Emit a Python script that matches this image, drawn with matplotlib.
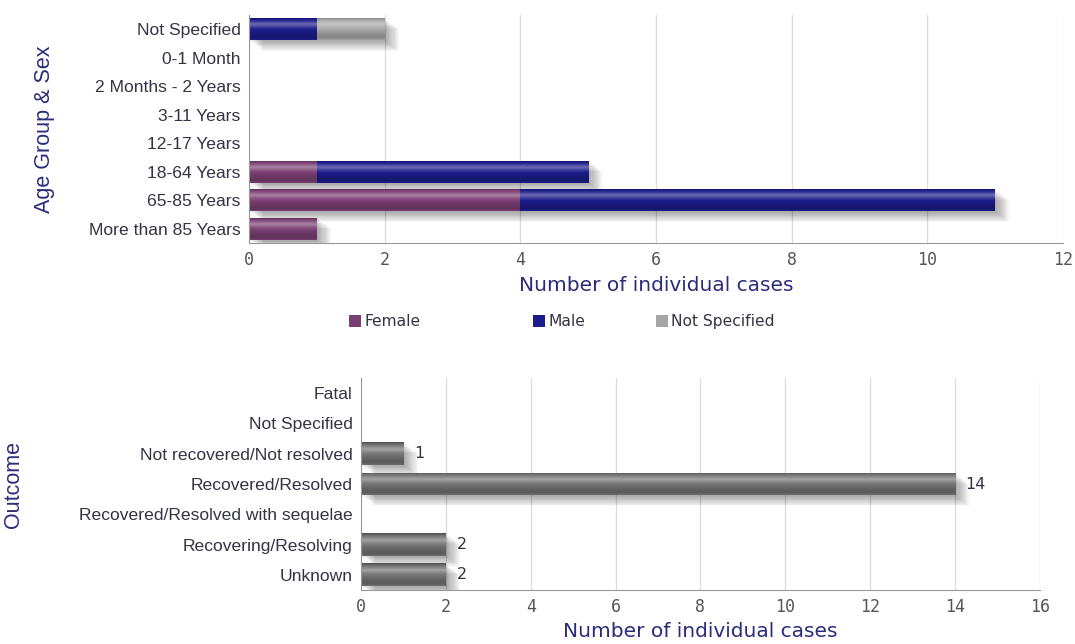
import matplotlib
matplotlib.use("Agg")
import matplotlib.pyplot as plt
import numpy as np
from matplotlib.patches import Rectangle
from matplotlib.colors import to_rgb
import matplotlib.patheffects as pe

# ---- data ----
age_groups = ["Not Specified", "0-1 Month", "2 Months - 2 Years", "3-11 Years",
              "12-17 Years", "18-64 Years", "65-85 Years", "More than 85 Years"]
female = [0, 0, 0, 0, 0, 1, 4, 1]
male = [1, 0, 0, 0, 0, 4, 7, 0]
sex_not_specified = [1, 0, 0, 0, 0, 0, 0, 0]

outcomes = ["Fatal", "Not Specified", "Not recovered/Not resolved", "Recovered/Resolved",
            "Recovered/Resolved with sequelae", "Recovering/Resolving", "Unknown"]
outcome_counts = [0, 0, 1, 14, 0, 2, 2]

top_xticks = [0, 2, 4, 6, 8, 10, 12]
bottom_xticks = [0, 2, 4, 6, 8, 10, 12, 14, 16]
legend_labels = ["Female", "Male", "Not Specified"]

c_female = "#7a3f72"
c_male = "#1c1c8a"
c_ns = "#a6a6a6"
c_out = "#727272"
txt = "#333344"
title_c = "#2b2b7a"
grid_c = "#dcdcdc"

fig = plt.figure(figsize=(10.75, 6.44), dpi=100)

# vertical shading profile (top -> bottom): <1 darken, >1 lighten
prof_t = [0.0, 0.08, 0.3, 0.5, 0.75, 0.9, 1.0]
prof_f = [0.70, 0.95, 1.35, 1.05, 0.85, 0.80, 0.95]


def shade(color, f):
    c = np.array(to_rgb(color))
    if f <= 1:
        return c * f
    return c + (1 - c) * (f - 1)


def gradient_over(ax, bars, color):
    t = np.linspace(0, 1, 40)
    fac = np.interp(t, prof_t, prof_f)
    img = np.array([shade(color, f) for f in fac]).reshape(-1, 1, 3)
    img = np.clip(img, 0, 1)
    for p in bars.patches:
        w = p.get_width()
        if w <= 0:
            continue
        x0, y0, h = p.get_x(), p.get_y(), p.get_height()
        im = ax.imshow(img, extent=(x0, x0 + w, y0 + h, y0), aspect="auto",
                       zorder=3, interpolation="bilinear")
        im.set_clip_path(p)


shadow_fx = [pe.SimplePatchShadow(offset=(0.8 * k, -0.6 * k), shadow_rgbFace="#000000",
                                  alpha=0.028) for k in range(1, 14)]


def style(ax, xmax, ticks, ymax):
    ax.set_xlim(0, xmax)
    ax.set_ylim(ymax - 0.5, -0.5)
    ax.set_xticks(ticks)
    ax.grid(axis="x", color=grid_c, linewidth=0.9)
    ax.set_axisbelow(True)
    for s in ["top", "right"]:
        ax.spines[s].set_visible(False)
    for s in ["left", "bottom"]:
        ax.spines[s].set_color("#999999")
        ax.spines[s].set_zorder(5)
    ax.tick_params(axis="y", length=0, pad=6, labelsize=12.6, colors=txt)
    ax.tick_params(axis="x", length=0, pad=6, labelsize=12, colors="#555555")
    for lab in ax.get_yticklabels():
        lab.set_fontfamily("Liberation Sans")
    for lab in ax.get_xticklabels():
        lab.set_fontfamily("DejaVu Sans Mono")


# ---- top chart ----
ax1 = fig.add_axes([0.2316, 0.6227, 0.7572, 0.354])
y1 = np.arange(len(age_groups))
h1 = 0.78
totals = np.array(female) + np.array(male) + np.array(sex_not_specified)
ax1.barh(y1, totals, height=h1, color="none", linewidth=0, zorder=1.5,
         path_effects=shadow_fx)
left = np.zeros(len(age_groups))
for vals, col in [(female, c_female), (male, c_male), (sex_not_specified, c_ns)]:
    b = ax1.barh(y1, vals, left=left, height=h1, color=col, edgecolor="none", zorder=2)
    gradient_over(ax1, b, col)
    left = left + np.array(vals)
ax1.set_yticks(y1)
ax1.set_yticklabels(age_groups)
style(ax1, 12, top_xticks, len(age_groups))
ax1.set_xlabel("Number of individual cases", fontsize=14.5, color=title_c,
               fontfamily="DejaVu Sans", labelpad=5)
ax1.set_ylabel("Age Group & Sex", fontsize=15.5, color=title_c,
               fontfamily="Liberation Sans")
ax1.yaxis.set_label_coords(-0.238, 0.5)

# legend (manual placement)
leg_x = [349, 533, 656]
for lx, lab, col in zip(leg_x, legend_labels, [c_female, c_male, c_ns]):
    fig.add_artist(Rectangle((lx / 1075, 1 - 327 / 644), 12 / 1075, 12 / 644,
                             transform=fig.transFigure, facecolor=col,
                             edgecolor="none"))
    fig.text((lx + 15) / 1075, 1 - 326 / 644, lab, fontsize=11.2, color=txt,
             fontfamily="DejaVu Sans", va="baseline", ha="left")

# ---- bottom chart ----
ax2 = fig.add_axes([0.3358, 0.0839, 0.6316, 0.329])
y2 = np.arange(len(outcomes))
ax2.barh(y2, outcome_counts, height=0.75, color="none", linewidth=0, zorder=1.5,
         path_effects=shadow_fx)
b2 = ax2.barh(y2, outcome_counts, height=0.75, color=c_out, edgecolor="none", zorder=2)
gradient_over(ax2, b2, c_out)
for yi, v in zip(y2, outcome_counts):
    if v > 0:
        ax2.text(v + 0.25, yi, str(v), va="center", ha="left", fontsize=11.5,
                 color=txt, fontfamily="DejaVu Sans", zorder=6)
ax2.set_yticks(y2)
ax2.set_yticklabels(outcomes)
style(ax2, 16, bottom_xticks, len(outcomes))
ax2.set_xlabel("Number of individual cases", fontsize=14.5, color=title_c,
               fontfamily="DejaVu Sans", labelpad=4)
ax2.set_ylabel("Outcome", fontsize=15.5, color=title_c, fontfamily="Liberation Sans")
ax2.yaxis.set_label_coords(-0.496, 0.5)

fig.savefig("out.png", dpi=100)
